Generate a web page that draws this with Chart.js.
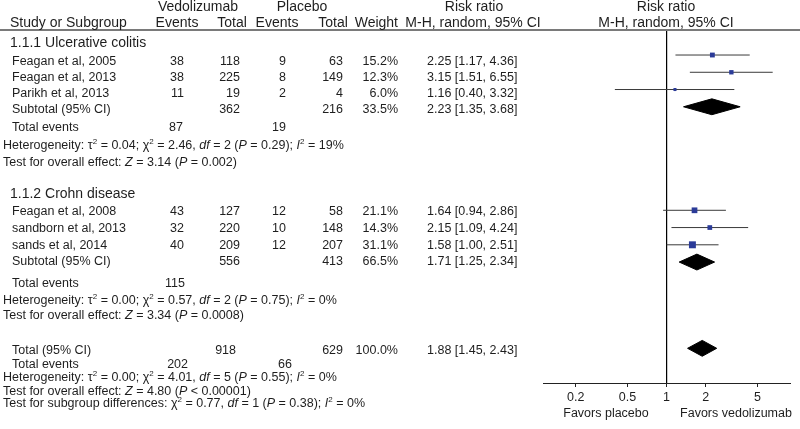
<!DOCTYPE html>
<html>
<head>
<meta charset="utf-8">
<script src="https://cdn.jsdelivr.net/npm/chart.js@4.4.1/dist/chart.umd.min.js"></script>
<style>
  html, body { margin: 0; padding: 0; background: #fff; }
  #wrap { position: relative; width: 800px; height: 429px; overflow: hidden; }
  #c { position: absolute; left: 0; top: 0; }
  .t { position: absolute; white-space: nowrap; line-height: 1; color: #1e1e1e;
       font-family: 'Liberation Sans', Arial, Helvetica, sans-serif; font-size: 12.5px; }
  .h { font-size: 14px; }
  .t sup { font-size: 8px; vertical-align: 5px; line-height: 0; }
  #rule { position: absolute; left: 0; top: 29px; width: 800px; height: 2px; background: #7a7a7a; }
</style>
</head>
<body>
<div id="wrap">
  <canvas id="c" width="800" height="429"></canvas>
  <div id="rule"></div>
</div>
<script>
// studies
const studies = ['Feagan et al, 2005', 'Feagan et al, 2013', 'Parikh et al, 2013',
                 'Feagan et al, 2008', 'sandborn et al, 2013', 'sands et al, 2014'];
const vedoEvents = [38, 38, 11, 43, 32, 40];
const vedoTotal = [118, 225, 19, 127, 220, 209];
const placEvents = [9, 8, 2, 12, 10, 12];
const placTotal = [63, 149, 4, 58, 148, 207];
const weights = [15.2, 12.3, 6.0, 21.1, 14.3, 31.1];
const rr = [2.25, 3.15, 1.16, 1.64, 2.15, 1.58];
const ciLow = [1.17, 1.51, 0.40, 0.94, 1.09, 1.00];
const ciHigh = [4.36, 6.55, 3.32, 2.86, 4.24, 2.51];
const studyRows = [1, 2, 3, 10, 11, 12];

// subtotals + overall (last entry)
const poolNames = ['Subtotal (95% CI)', 'Subtotal (95% CI)', 'Total (95% CI)'];
const poolVedoTotal = [362, 556, 918];
const poolPlacTotal = [216, 413, 629];
const poolWeight = [33.5, 66.5, 100.0];
const poolRR = [2.23, 1.71, 1.88];
const poolLow = [1.35, 1.25, 1.45];
const poolHigh = [3.68, 2.34, 2.43];
const poolRows = [4, 13, 18];

const totalVedoEvents = [87, 115, 202];
const totalPlacEvents = [19, null, 66];

const xTicks = [0.2, 0.5, 1, 2, 5];
const xMin = 0.112, xMax = 8.9;
const yMin = -0.45, yMax = 20.01;

const FONT = "'Liberation Sans', Arial, Helvetica, sans-serif";
const wrap = document.getElementById('wrap');

function put(html, x, y, align, cls) {
  const d = document.createElement('div');
  d.className = 't' + (cls ? ' ' + cls : '');
  d.innerHTML = html;
  d.style.left = x + 'px';
  d.style.top = y + 'px';
  const tx = align === 'right' ? '-100%' : align === 'center' ? '-50%' : '0';
  d.style.transform = `translate(${tx}, -50%)`;
  wrap.appendChild(d);
}

const fmtCI = (m, lo, hi) => `${m.toFixed(2)} [${lo.toFixed(2)}, ${hi.toFixed(2)}]`;

// header
put('Vedolizumab', 198, 6, 'center', 'h');
put('Placebo', 302, 6, 'center', 'h');
put('Risk ratio', 474, 6, 'center', 'h');
put('Risk ratio', 666, 6, 'center', 'h');
put('Study or Subgroup', 10, 22, 'left', 'h');
put('Events', 177, 22, 'center', 'h');
put('Total', 232, 22, 'center', 'h');
put('Events', 277, 22, 'center', 'h');
put('Total', 333, 22, 'center', 'h');
put('Weight', 398, 22, 'right', 'h');
put('M-H, random, 95% CI', 473, 22, 'center', 'h');
put('M-H, random, 95% CI', 666, 22, 'center', 'h');

put('1.1.1 Ulcerative colitis', 10, 42, 'left', 'h');
put('1.1.2 Crohn disease', 10, 193, 'left', 'h');

// study rows
const studyTextY = [61, 77, 93, 211, 228, 245];
studies.forEach((s, i) => {
  const y = studyTextY[i];
  put(s, 12, y, 'left');
  put(vedoEvents[i], 184, y, 'right');
  put(vedoTotal[i], 240, y, 'right');
  put(placEvents[i], 286, y, 'right');
  put(placTotal[i], 343, y, 'right');
  put(weights[i].toFixed(1) + '%', 398, y, 'right');
  put(fmtCI(rr[i], ciLow[i], ciHigh[i]), 427, y, 'left');
});

// pooled rows
const poolTextY = [109, 261, 350];
const poolTotX = [240, 240, 236];
poolNames.forEach((s, i) => {
  const y = poolTextY[i];
  put(s, 12, y, 'left');
  put(poolVedoTotal[i], poolTotX[i], y, 'right');
  put(poolPlacTotal[i], 343, y, 'right');
  put(poolWeight[i].toFixed(1) + '%', 398, y, 'right');
  put(fmtCI(poolRR[i], poolLow[i], poolHigh[i]), 427, y, 'left');
});

// total events
const evY = [127, 283, 364];
const evX = [[183, 286], [185, 286], [188, 292]];
totalVedoEvents.forEach((v, i) => {
  put('Total events', 12, evY[i], 'left');
  put(v, evX[i][0], evY[i], 'right');
  if (totalPlacEvents[i] !== null) put(totalPlacEvents[i], evX[i][1], evY[i], 'right');
});

// heterogeneity / tests
put('Heterogeneity: &tau;<sup>2</sup> = 0.04; &chi;<sup>2</sup> = 2.46, <i>df</i> = 2 (<i>P</i> = 0.29); <i>I</i><sup>2</sup> = 19%', 3, 145, 'left');
put('Test for overall effect: <i>Z</i> = 3.14 (<i>P</i> = 0.002)', 3, 162, 'left');
put('Heterogeneity: &tau;<sup>2</sup> = 0.00; &chi;<sup>2</sup> = 0.57, <i>df</i> = 2 (<i>P</i> = 0.75); <i>I</i><sup>2</sup> = 0%', 3, 300, 'left');
put('Test for overall effect: <i>Z</i> = 3.34 (<i>P</i> = 0.0008)', 3, 315, 'left');
put('Heterogeneity: &tau;<sup>2</sup> = 0.00; &chi;<sup>2</sup> = 4.01, <i>df</i> = 5 (<i>P</i> = 0.55); <i>I</i><sup>2</sup> = 0%', 3, 377, 'left');
put('Test for overall effect: <i>Z</i> = 4.80 (<i>P</i> &lt; 0.00001)', 3, 391, 'left');
put('Test for subgroup differences: &chi;<sup>2</sup> = 0.77, <i>df</i> = 1 (<i>P</i> = 0.38); <i>I</i><sup>2</sup> = 0%', 3, 403, 'left');

put('Favors placebo', 606, 413, 'center');
put('Favors vedolizumab', 736, 413, 'center');

// forest plot
const datasets = [];
datasets.push({
  data: studies.map((s, i) => ({ x: rr[i], y: studyRows[i] })),
  pointStyle: 'rect',
  pointRadius: weights.map(w => 0.88 * Math.sqrt(w)),
  backgroundColor: '#2b3b98',
  borderWidth: 0,
  order: 0,
});
studies.forEach((s, i) => {
  datasets.push({
    data: [{ x: ciLow[i], y: studyRows[i] }, { x: ciHigh[i], y: studyRows[i] }],
    showLine: true, borderColor: '#3a3a3a', borderWidth: 1, pointRadius: 0, order: 1,
  });
});
const dh = 0.46;
poolRR.forEach((m, i) => {
  const r = poolRows[i];
  datasets.push({
    data: [{ x: poolLow[i], y: r }, { x: m, y: r - dh }, { x: poolHigh[i], y: r },
           { x: m, y: r + dh }, { x: poolLow[i], y: r }],
    showLine: true, fill: 'shape', tension: 0,
    borderColor: '#000', backgroundColor: '#000', borderWidth: 1, pointRadius: 0, order: 1,
  });
});
datasets.push({
  data: [{ x: 1, y: yMin }, { x: 1, y: yMax }],
  showLine: true, borderColor: '#000', borderWidth: 1, pointRadius: 0, order: 2,
});

new Chart(document.getElementById('c'), {
  type: 'scatter',
  data: { datasets },
  options: {
    responsive: false,
    animation: false,
    events: [],
    layout: { padding: { left: 543, right: 10, top: 30, bottom: 26 } },
    plugins: { legend: { display: false }, tooltip: { enabled: false } },
    scales: {
      x: {
        type: 'logarithmic',
        min: xMin,
        max: xMax,
        afterBuildTicks: s => { s.ticks = xTicks.map(v => ({ value: v })); },
        afterFit: s => { s.height = 20; },
        ticks: {
          callback: v => String(v),
          autoSkip: false, maxRotation: 0, padding: 3,
          color: '#1e1e1e', font: { family: FONT, size: 12.5 },
        },
        grid: { display: true, drawOnChartArea: false, drawTicks: true, tickLength: 4, color: '#222' },
        border: { display: true, color: '#222', width: 1 },
      },
      y: { type: 'linear', display: false, reverse: true, min: yMin, max: yMax },
    },
  },
});
</script>
</body>
</html>
